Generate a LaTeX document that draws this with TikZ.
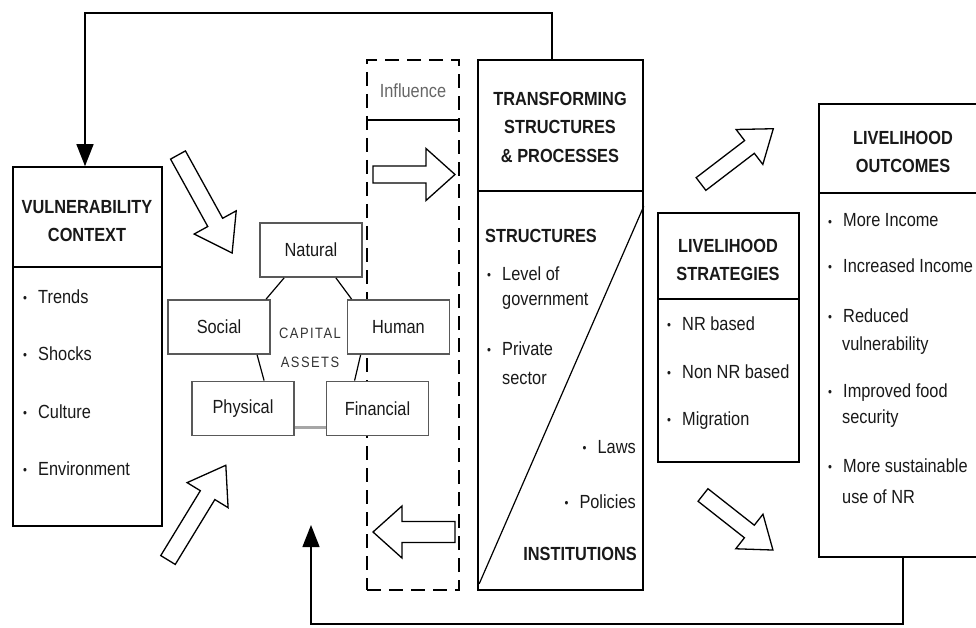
\documentclass[tikz,border=0pt]{standalone}
\usepackage{fontspec}
\setmainfont{Liberation Sans}[FakeStretch=0.86]
\usetikzlibrary{arrows.meta}
\newcommand\bul{\makebox[15pt][l]{\raisebox{0.5pt}{\fontsize{13}{13}\selectfont •}}}
\newcommand\harrow[7]{%
  \begin{scope}[shift={(#1,#2)},rotate=#3]
    \draw[hollowarr] (0,-#5) -- (#4-#7,-#5) -- (#4-#7,-#6) -- (#4,0) -- (#4-#7,#6) -- (#4-#7,#5) -- (0,#5) -- cycle;
  \end{scope}}
\begin{document}
\begin{tikzpicture}[x=1pt,y=-1pt,
  mainbox/.style={draw=black, line width=1.6pt, fill=white, inner sep=0pt},
  capbox/.style={draw=black!65, line width=1.8pt, fill=white, inner sep=0pt, minimum width=102pt, minimum height=54pt, font=\fontsize{19}{22}\selectfont},
  ttl/.style={font=\bfseries\fontsize{19}{28.5}\selectfont, align=center, inner sep=0pt},
  txt/.style={font=\fontsize{19}{22}\selectfont, inner sep=0pt, text height=13pt, text depth=3pt, anchor=west},
  hollowarr/.style={draw=black, line width=1.3pt, fill=white, line join=miter},
  divrule/.style={line width=1.6pt},
  fbline/.style={line width=1.4pt},
  fbtip/.style={-{Triangle[length=22pt,width=17pt]}},
  text=black!90]
\useasboundingbox (0,0) rectangle (976,628);
\clip (0,0) rectangle (976,628);

% Vulnerability context
\node[mainbox, minimum width=149pt, minimum height=359pt] (vc) at (87.5,346.5) {};
\draw[divrule] ([yshift=-101pt]vc.north west) -- ([yshift=-101pt]vc.north east);
\node[ttl] (vct) at (87,221) {VULNERABILITY\\CONTEXT};
\node[txt] (vc1) at (23,298) {\bul Trends};
\node[txt] (vc2) at (23,355) {\bul Shocks};
\node[txt] (vc3) at (23,413) {\bul Culture};
\node[txt] (vc4) at (23,470) {\bul Environment};

% dashed influence box
\node[draw, dash pattern=on 14pt off 8pt, line width=1.6pt, inner sep=0pt, minimum width=92pt, minimum height=530pt] (inf) at (413,325) {};
\draw[divrule] ([yshift=-61pt]inf.north west) -- ([yshift=-61pt]inf.north east);
\node[txt, anchor=center, text=black!60] (inft) at (413,93) {Influence};
\harrow{373}{174.5}{0}{82}{8.5}{26}{29}
\harrow{455}{532}{180}{82}{10.5}{26}{29}

% capital assets
\node[capbox] (nat) at (311,250) {Natural};
\node[capbox] (soc) at (219,327) {Social};
\node[capbox] (hum) at (398.5,327) {Human};
\node[capbox] (phy) at (243,408.5) {Physical};
\node[capbox] (fin) at (377.5,408.5) {Financial};
\draw[line width=1.2pt] ([xshift=25pt]nat.south west) -- ([xshift=99pt]soc.north west);
\draw[line width=1.2pt] ([xshift=-27pt]nat.south east) -- ([xshift=5pt]hum.north west);
\draw[line width=1.2pt] ([xshift=90pt]soc.south west) -- ([xshift=73pt]phy.north west);
\draw[line width=1.2pt] ([xshift=14pt]hum.south west) -- ([xshift=29pt]fin.north west);
\draw[line width=3pt, black!35] ([yshift=9pt]phy.south east) -- ([yshift=9pt]fin.south west);
\node[font=\fontsize{15}{29}\selectfont\addfontfeature{LetterSpace=10}, align=center, inner sep=0pt, text=black!80] (capt) at (310,348) {CAPITAL\\ASSETS};

% hollow arrows
\harrow{178}{155}{-61.1}{112}{8.5}{24}{35}
\harrow{168}{560}{58.6}{111}{8.5}{24}{35}
\harrow{701}{184}{37.4}{91}{8}{22}{30}
\harrow{703}{495}{-38.2}{89}{8}{22}{30}

% transforming structures
\node[mainbox, minimum width=165pt, minimum height=530pt] (tsp) at (560.5,325) {};
\draw[divrule] ([yshift=-132pt]tsp.north west) -- ([yshift=-132pt]tsp.north east);
\draw[line width=1.2pt] ([xshift=2pt,yshift=7pt]tsp.south west) -- ([yshift=-147pt]tsp.north east);
\node[ttl] (tspt) at (560,127) {TRANSFORMING\\STRUCTURES\\\& PROCESSES};
\node[txt, font=\bfseries\fontsize{19}{22}\selectfont] (str) at (485,237) {STRUCTURES};
\node[txt] (s1) at (487,275) {\bul Level of};
\node[txt] (s1b) at (502,300) {government};
\node[txt] (s2) at (487,350) {\bul Private};
\node[txt] (s2b) at (502,379) {sector};
\node[txt, anchor=east] (i1) at (636,448) {\bul Laws};
\node[txt, anchor=east] (i2) at (636,503) {\bul Policies};
\node[txt, anchor=east, font=\bfseries\fontsize{19}{22}\selectfont] (ins) at (637,555) {INSTITUTIONS};

% livelihood strategies
\node[mainbox, minimum width=141pt, minimum height=249pt] (ls) at (728.5,337.5) {};
\draw[divrule] ([yshift=-87pt]ls.north west) -- ([yshift=-87pt]ls.north east);
\node[ttl] (lst) at (728,260) {LIVELIHOOD\\STRATEGIES};
\node[txt] (l1) at (667,325) {\bul NR based};
\node[txt] (l2) at (667,373) {\bul Non NR based};
\node[txt] (l3) at (667,420) {\bul Migration};

% livelihood outcomes
\node[mainbox, minimum width=171pt, minimum height=453pt] (lo) at (904.5,330.5) {};
\draw[divrule] ([yshift=-90pt]lo.north west) -- ([yshift=-90pt]lo.north east);
\node[ttl] (lot) at (903,152) {LIVELIHOOD\\OUTCOMES};
\node[txt] (o1) at (828,222) {\bul More Income};
\node[txt] (o2) at (828,267) {\bul Increased Income};
\node[txt] (o3) at (828,317) {\bul Reduced};
\node[txt] (o3b) at (842,345) {vulnerability};
\node[txt] (o4) at (828,392) {\bul Improved food};
\node[txt] (o4b) at (842,418) {security};
\node[txt] (o5) at (828,467) {\bul More sustainable};
\node[txt] (o5b) at (842,498) {use of NR};

% feedback loops
\coordinate (t1) at (552,13);
\coordinate (t2) at (85,13);
\draw[fbline, fbtip] ([xshift=-8.5pt]tsp.north) -- (t1) -- (t2) -- (vc.north -| t2);
\coordinate (b1) at (903,624);
\coordinate (b2) at (311,624);
\coordinate (b3) at (311,525);
\draw[fbline, fbtip] ([xshift=-1.5pt]lo.south) -- (b1) -- (b2) -- (b3);
\end{tikzpicture}
\end{document}
